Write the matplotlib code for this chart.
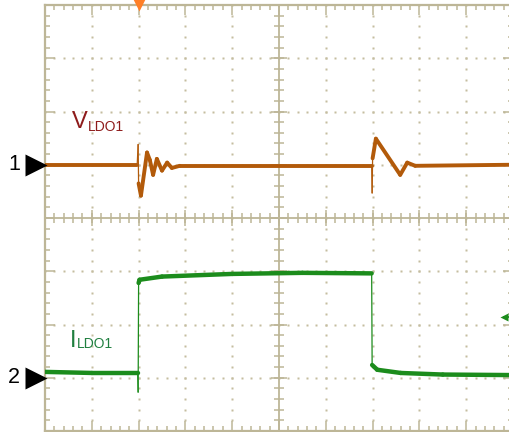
import numpy as np
import matplotlib.pyplot as plt
from matplotlib.collections import LineCollection

plt.rcParams['font.family'] = ['Liberation Sans', 'DejaVu Sans']

# scope screen: 10 x 8 divisions, minor marks every 0.2 div
n_xdiv, n_ydiv = 10, 8

# ground reference of each channel (div from bottom of the screen)
ch1_ground = 5.0
ch2_ground = 1.0

# CH1 - V_LDO1 : time (div) and level (div above ground)
v_t = [0.0, 1.97, 1.99, 2.00, 2.05, 2.18, 2.24, 2.31, 2.39, 2.50, 2.61, 2.71,
       2.88, 6.98, 6.99, 7.00, 7.07, 7.59, 7.74, 7.91, 10.0]
v_lvl = [0.0, 0.0, 0.38, -0.35, -0.58, 0.23, 0.09, -0.19, 0.11, -0.11, 0.04, -0.06,
         -0.02, -0.02, -0.53, 0.12, 0.49, -0.19, 0.04, -0.02, 0.0]

# CH2 - I_LDO1 : load current step
i_t = [0.0, 1.0, 1.98, 1.99, 2.00, 2.02, 2.5, 4.0, 5.5, 6.98, 6.99, 7.1, 7.6, 8.5, 10.0]
i_lvl = [0.11, 0.09, 0.09, -0.27, 1.78, 1.84, 1.90, 1.95, 1.97, 1.96, 0.24, 0.15,
         0.09, 0.06, 0.05]

trig_time = 2.0
trig_level_ch2 = 1.14

grid_col = '#BDB697'
dot_col = '#C4BD9F'
v_col = '#B25A0A'
i_col = '#1C8C1C'

fig = plt.figure(figsize=(5.1, 4.32), dpi=100)
ax = fig.add_axes([45 / 510, 1 / 432, 468 / 510, 426 / 432])
ax.set_xlim(0, n_xdiv)
ax.set_ylim(0, n_ydiv)
ax.set_facecolor('white')

# border with inward ticks
for sp in ax.spines.values():
    sp.set_color(grid_col)
    sp.set_linewidth(1.6)
ax.set_xticks(np.arange(0, n_xdiv + 1))
ax.set_yticks(np.arange(0, n_ydiv + 1))
ax.set_xticks(np.arange(0, n_xdiv + 0.01, 0.2), minor=True)
ax.set_yticks(np.arange(0, n_ydiv + 0.01, 0.2), minor=True)
ax.tick_params(which='both', direction='in', top=True, right=True,
               labelbottom=False, labelleft=False, color=grid_col, width=1.1)
ax.tick_params(which='major', length=7.2)
ax.tick_params(which='minor', length=3.6)

# dotted graticule
xs = np.arange(0, n_xdiv + 0.01, 0.2)
ys = np.arange(0, n_ydiv + 0.01, 0.2)
for gy in range(1, n_ydiv):
    if gy != n_ydiv // 2:
        ax.plot(xs, np.full_like(xs, gy), ls='none', marker='s', ms=1.5,
                color=dot_col, mec='none', zorder=1)
for gx in range(1, n_xdiv):
    if gx != n_xdiv // 2:
        ax.plot(np.full_like(ys, gx), ys, ls='none', marker='s', ms=1.5,
                color=dot_col, mec='none', zorder=1)

# centre cross with its own ticks
cx, cy = n_xdiv / 2, n_ydiv / 2
ax.axhline(cy, color=grid_col, lw=1.3, zorder=1)
ax.axvline(cx, color=grid_col, lw=1.3, zorder=1)
ax.plot(xs, np.full_like(xs, cy), ls='none', marker='|', ms=7, mew=1.1,
        color=grid_col, zorder=1)
ax.plot(np.full_like(ys, cx), ys, ls='none', marker='_', ms=6.5, mew=1.1,
        color=grid_col, zorder=1)
ax.plot(np.arange(0, n_xdiv + 1), np.full(n_xdiv + 1, cy), ls='none', marker='|',
        ms=11.5, mew=1.1, color=grid_col, zorder=1)
ax.plot(np.full(n_ydiv + 1, cx), np.arange(0, n_ydiv + 1), ls='none', marker='_',
        ms=11.5, mew=1.1, color=grid_col, zorder=1)


def draw_trace(t, lvl, ground, color, lw):
    t = np.asarray(t, dtype=float)
    y = np.asarray(lvl, dtype=float) + ground
    pts = np.column_stack([t, y])
    segs = np.stack([pts[:-1], pts[1:]], axis=1)
    slope = np.abs(np.diff(y)) / np.maximum(np.diff(t), 1e-6)
    # fast edges have few samples, so they come out thin on screen
    widths = np.where(slope > 15, 0.9, lw)
    ax.add_collection(LineCollection(segs, colors=color, linewidths=widths,
                                     capstyle='round', joinstyle='round', zorder=5))


draw_trace(v_t, v_lvl, ch1_ground, v_col, 2.8)
draw_trace(i_t, i_lvl, ch2_ground, i_col, 3.2)

# trigger position (top) and trigger level (right edge) indicators
ax.plot([trig_time], [n_ydiv + 0.02], marker='v', ms=10, color='#FF7F27', mec='none',
        clip_on=False, zorder=6)
lvl_y = ch2_ground + trig_level_ch2
ax.plot([9.8, 10.0], [lvl_y, lvl_y], color=i_col, lw=1.3, clip_on=False, zorder=7)
ax.plot([9.8], [lvl_y], marker='<', ms=6, color=i_col, mec='none',
        clip_on=False, zorder=7)

# channel ground markers
for num, g in (('1', ch1_ground), ('2', ch2_ground)):
    ax.plot([-0.19], [g], marker='>', ms=16, color='black', mec='none',
            clip_on=False, zorder=6)
    ax.text(-0.53, g, num, fontsize=15.5, ha='right', va='center', color='black')

# trace names
ax.text(0.58, 5.69, 'V', fontsize=17, color='#8E1B1B', va='baseline')
ax.text(0.92, 5.63, 'LDO1', fontsize=10, color='#8E1B1B', va='baseline')
ax.text(0.53, 1.58, 'I', fontsize=17, color='#1F7F3F', va='baseline')
ax.text(0.69, 1.56, 'LDO1', fontsize=10, color='#1F7F3F', va='baseline')

fig.savefig('out.png', dpi=100, facecolor='white')
